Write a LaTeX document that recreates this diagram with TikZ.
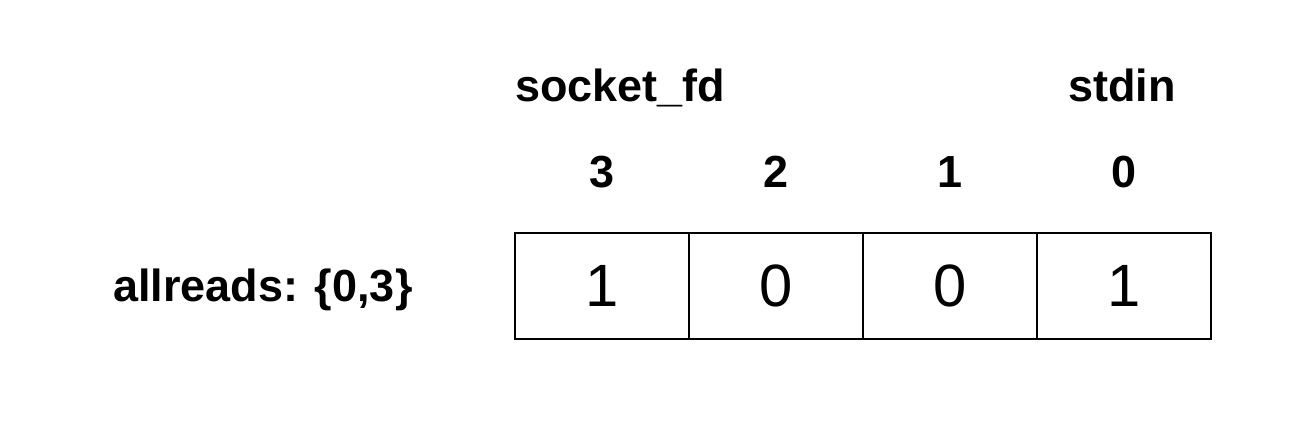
\documentclass[tikz,border=0pt]{standalone}
\usepackage{fontspec}
\setmainfont{Liberation Sans}
\begin{document}
\begin{tikzpicture}[x=0.02cm,y=-0.02cm]
    \tikzstyle{bit}=[rectangle,draw,line width=1.2pt,minimum width=3.48cm,minimum height=2.12cm,inner sep=0pt,font=\fontsize{34}{40}\selectfont]
    \tikzstyle{heading}=[inner sep=0pt,font=\bfseries\fontsize{25.6}{30}\selectfont]
    \useasboundingbox (0,0) rectangle (1290,431);

    \foreach \fd/\b [count=\i from 0] in {3/1,2/0,1/0,0/1}
    {
    \node[bit] (bit-\fd) at (602+174*\i,286) {};
    \node[anchor=base,font=\fontsize{34}{40}\selectfont,inner sep=0pt] at (602+174*\i,307) {\b};
    \node[heading,anchor=base] (fd-\fd) at (602+174*\i,188) {\fd};
    }

    \node[heading,anchor=base west] (sock) at (515,102) {socket\_fd};
    \node[heading,anchor=base] (stdin) at (1122,102) {stdin};
    \node[heading,anchor=base west] (allreads) at (113,302) {allreads: \{0,3\}};
\end{tikzpicture}
\end{document}
